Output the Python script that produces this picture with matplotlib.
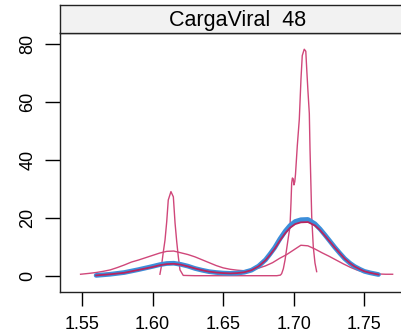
import matplotlib
matplotlib.use("Agg")
import matplotlib.pyplot as plt

plt.rcParams['font.family'] = ['Liberation Sans', 'DejaVu Sans']

# curva larga (mistura com desvio grande)
x_larga = [1.549, 1.555, 1.560, 1.565, 1.570, 1.575, 1.580, 1.585, 1.590, 1.595,
           1.600, 1.605, 1.610, 1.615, 1.620, 1.625, 1.630, 1.635, 1.640, 1.645,
           1.650, 1.655, 1.660, 1.665, 1.670, 1.675, 1.680, 1.685, 1.690, 1.695,
           1.700, 1.705, 1.710, 1.715, 1.720, 1.725, 1.730, 1.735, 1.740, 1.745,
           1.750, 1.755, 1.760, 1.765, 1.770]
y_larga = [0.6, 0.9, 1.2, 1.6, 2.1, 2.9, 3.8, 4.8, 5.5, 6.3,
           7.1, 7.9, 8.5, 8.6, 8.0, 7.4, 6.6, 5.6, 4.6, 3.6,
           2.8, 2.3, 2.0, 1.8, 2.1, 2.7, 3.5, 4.6, 6.1, 7.4,
           9.0, 10.6, 10.4, 9.3, 8.0, 6.8, 5.5, 4.2, 3.0, 2.0,
           1.3, 0.9, 0.7, 0.6, 0.6]

# curva estreita (picos)
x_estreita = [1.6052, 1.6064, 1.6076, 1.6088, 1.6100, 1.6111, 1.6130, 1.6147,
              1.6159, 1.6171, 1.6182, 1.6194, 1.6217, 1.6300, 1.6500, 1.6700,
              1.6880, 1.6905, 1.6914, 1.6926, 1.6938, 1.6950, 1.6962, 1.6973,
              1.6980, 1.6985, 1.6990, 1.6996, 1.7001, 1.7007, 1.7012, 1.7025,
              1.7039, 1.7051, 1.7060, 1.7074, 1.7085, 1.7092, 1.7100, 1.7110,
              1.7115, 1.7121, 1.7127, 1.7138, 1.7150, 1.7162]
y_estreita = [0.6, 3.8, 8.3, 12.4, 18.7, 26.2, 29.1, 27.3,
              18.3, 11.8, 6.7, 2.1, 0.2, 0.1, 0.1, 0.1,
              0.1, 0.3, 0.8, 2.5, 5.5, 9.5, 13.5, 17.0,
              25.0, 32.0, 33.8, 33.5, 31.4, 32.5, 35.0, 45.0,
              54.0, 68.0, 76.0, 78.2, 77.5, 71.0, 64.0, 56.0,
              43.5, 32.0, 20.4, 10.1, 4.5, 1.5]

# densidade media (azul)
x_media = [1.560, 1.570, 1.580, 1.590, 1.600, 1.605, 1.610, 1.615, 1.620, 1.625,
           1.630, 1.635, 1.640, 1.645, 1.650, 1.655, 1.660, 1.665, 1.670, 1.675,
           1.680, 1.6832, 1.6865, 1.6902, 1.694, 1.6973, 1.701, 1.705, 1.710, 1.715,
           1.7186, 1.722, 1.7256, 1.729, 1.7327, 1.736, 1.7398, 1.743, 1.7469, 1.750,
           1.754, 1.760]
y_media = [0.2, 0.6, 1.2, 2.2, 3.3, 3.9, 4.3, 4.4, 4.0, 3.4,
           2.6, 2.0, 1.5, 1.2, 1.0, 0.9, 1.0, 1.3, 2.0, 3.4,
           5.6, 7.6, 9.8, 12.8, 15.5, 17.4, 18.8, 19.4, 19.5, 18.0,
           16.2, 14.2, 12.0, 9.9, 7.8, 6.0, 4.4, 3.3, 2.3, 1.6,
           1.1, 0.5]

# curva sobreposta (carmim escuro)
y_sobre = [0.2, 0.6, 1.1, 2.1, 3.1, 3.7, 4.1, 4.2, 3.9, 3.3,
           2.6, 2.0, 1.5, 1.2, 1.0, 0.9, 1.0, 1.3, 2.0, 3.3,
           5.4, 7.3, 9.4, 12.2, 14.8, 16.6, 17.9, 18.5, 18.6, 17.4,
           15.8, 13.9, 11.8, 9.8, 7.8, 6.0, 4.4, 3.3, 2.3, 1.6,
           1.1, 0.5]

eixo_x = [1.55, 1.60, 1.65, 1.70, 1.75]
eixo_y = [0, 20, 40, 60, 80]
titulo = "CargaViral  48"

fig = plt.figure(figsize=(4.01, 3.32), dpi=100)
ax = fig.add_axes([0.1496, 0.1205, 0.8853, 0.7801])
strip = fig.add_axes([0.1496, 0.9006, 0.8853, 0.0843])

ax.plot(x_larga, y_larga, color='#D0477A', lw=1.0)
ax.plot(x_estreita, y_estreita, color='#D0477A', lw=1.0)
ax.plot(x_media, y_media, color='#3C8EDA', lw=3.4, solid_capstyle='round')
ax.plot(x_media, y_sobre, color='#B8245F', lw=1.3)

ax.set_xlim(1.53442, 1.78584)
ax.set_ylim(-5.52, 83.79)
ax.set_xticks(eixo_x)
ax.set_xticklabels([f"{v:.2f}" for v in eixo_x])
ax.set_yticks(eixo_y)
ax.set_yticklabels([str(v) for v in eixo_y], rotation=90, va='center')
ax.tick_params(axis='x', length=10, width=1, pad=7, labelsize=13)
ax.tick_params(axis='y', length=11, width=1, pad=6, labelsize=13)
for s in ax.spines.values():
    s.set_linewidth(1.0)
    s.set_color('#222222')

strip.set_facecolor('#F2F2F2')
strip.set_xticks([])
strip.set_yticks([])
for s in strip.spines.values():
    s.set_linewidth(1.0)
    s.set_color('#222222')
strip.text(0.5, 0.45, titulo, ha='center', va='center', fontsize=15.5,
           transform=strip.transAxes)

fig.savefig("out.png", dpi=100)
